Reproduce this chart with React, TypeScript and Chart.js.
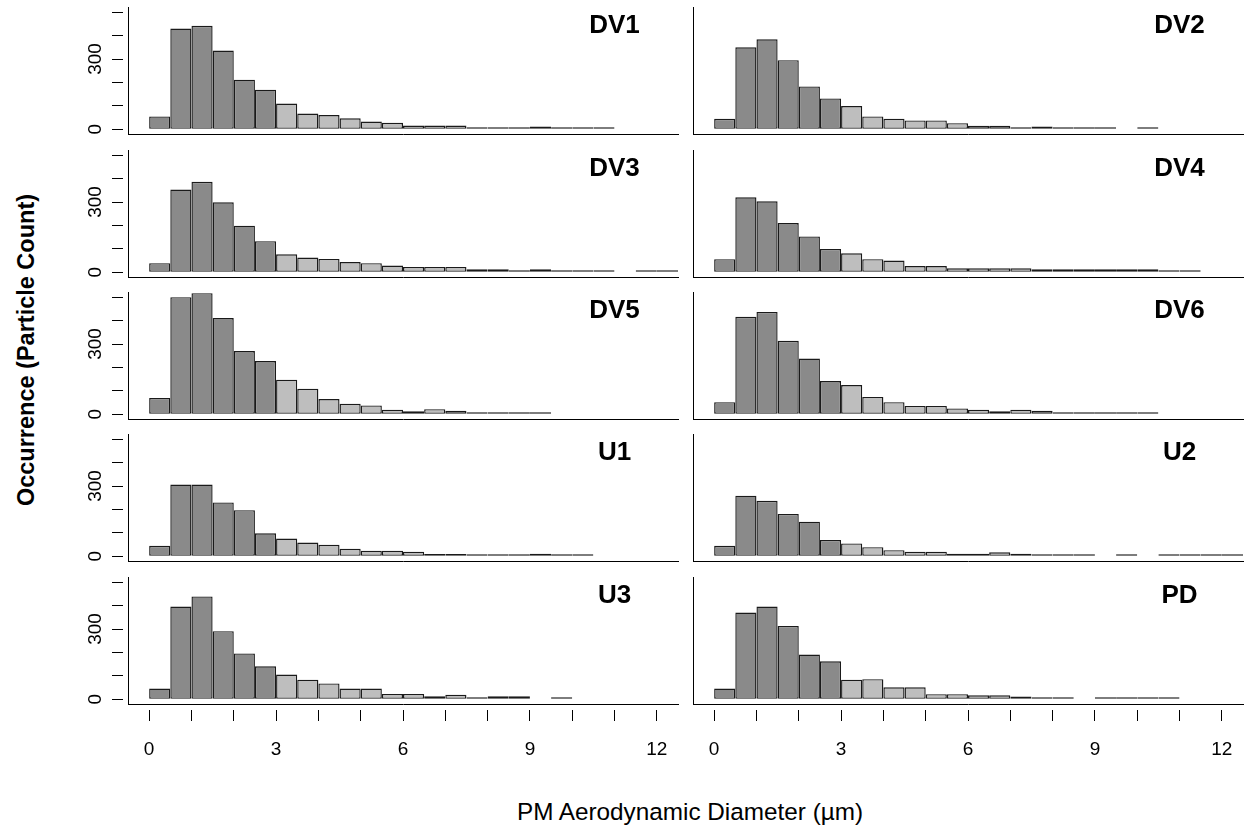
import React, { useEffect, useRef } from "react";
import { Chart, registerables } from "chart.js";

Chart.register(...registerables);

// ---- data ----
const binCenters = [
  0.25, 0.75, 1.25, 1.75, 2.25, 2.75, 3.25, 3.75, 4.25, 4.75, 5.25, 5.75, 6.25,
  6.75, 7.25, 7.75, 8.25, 8.75, 9.25, 9.75, 10.25, 10.75, 11.25, 11.75, 12.25,
];
const dv1Counts = [55, 430, 442, 336, 212, 169, 110, 67, 61, 47, 33, 28, 16, 16, 16, 6, 5, 5, 12, 5, 5, 5];
const dv2Counts = [45, 350, 384, 295, 183, 132, 99, 55, 45, 38, 38, 26, 15, 15, 6, 12, 5, 5, 5, 0, 7];
const dv3Counts = [39, 353, 386, 299, 199, 133, 77, 63, 57, 44, 39, 29, 23, 23, 23, 13, 13, 7, 13, 6, 6, 6, 0, 6, 6];
const dv4Counts = [56, 320, 303, 210, 153, 100, 81, 56, 50, 27, 27, 17, 17, 17, 17, 13, 13, 13, 13, 13, 13, 6, 6];
const dv5Counts = [70, 500, 517, 411, 270, 227, 148, 109, 65, 45, 38, 20, 13, 22, 15, 5, 5, 5, 5];
const dv6Counts = [52, 416, 437, 314, 238, 142, 125, 74, 52, 36, 36, 25, 19, 13, 20, 15, 9, 9, 4, 4, 4];
const u1Counts = [45, 306, 306, 230, 197, 98, 76, 59, 49, 32, 24, 24, 20, 10, 10, 6, 6, 6, 11, 6, 6];
const u2Counts = [45, 259, 237, 181, 148, 70, 55, 39, 26, 20, 20, 11, 11, 17, 11, 6, 6, 6, 0, 6, 0, 6, 6, 6, 6];
const u3Counts = [46, 396, 439, 291, 196, 141, 106, 84, 68, 46, 46, 23, 23, 13, 19, 7, 13, 13, 0, 7];
const pdCounts = [46, 370, 396, 313, 191, 162, 84, 86, 51, 51, 22, 22, 17, 17, 12, 6, 6, 0, 5, 5, 5, 5];

const panelNames = ["DV1", "DV2", "DV3", "DV4", "DV5", "DV6", "U1", "U2", "U3", "PD"];
const panelCounts = [dv1Counts, dv2Counts, dv3Counts, dv4Counts, dv5Counts, dv6Counts, u1Counts, u2Counts, u3Counts, pdCounts];

const coarseStart = 3; // bins at or above this diameter are drawn light
const xTickValues = [0, 1, 2, 3, 4, 5, 6, 7, 8, 9, 10, 11, 12];
const xTickLabelValues = [0, 3, 6, 9, 12];
const yTickValues = [0, 100, 200, 300, 400, 500];
const yTickLabelValues = [0, 300];
const labelPos = { x: 11, y: 442 };

// ---- style / layout ----
const FONT = '"Liberation Sans", Arial, Helvetica, sans-serif';
const DARK = "#8a8a8a";
const LIGHT = "#bebebe";
const EDGE = "#1a1a1a";
const COL_BOX_LEFT = [128, 693];
const BOX_W = 550;
const ROW_BOX_TOP = [7, 150, 292, 434, 577];
const BOX_H = 127;
const Y_AXIS_W = 60;
const X_AXIS_H = 62;
const PAD = 3;

const panelLabelPlugin = {
  id: "panelLabel",
  afterDatasetsDraw(chart: any, _args: any, opts: any) {
    const { ctx, scales } = chart;
    ctx.save();
    ctx.font = `bold 26px ${FONT}`;
    ctx.fillStyle = "#000";
    ctx.textAlign = "center";
    ctx.textBaseline = "middle";
    ctx.fillText(opts.text, scales.x.getPixelForValue(labelPos.x), scales.y.getPixelForValue(labelPos.y));
    ctx.restore();
  },
};

function geom(i: number) {
  const row = Math.floor(i / 2);
  const col = i % 2;
  const isLeft = col === 0;
  const isBottom = row === 4;
  const leftExtra = isLeft ? Y_AXIS_W : PAD;
  return {
    row,
    col,
    isLeft,
    isBottom,
    left: COL_BOX_LEFT[col] - leftExtra,
    top: ROW_BOX_TOP[row] - PAD,
    width: leftExtra + BOX_W + PAD,
    height: PAD + BOX_H + (isBottom ? X_AXIS_H : 0) + PAD,
  };
}

export default function App() {
  const refs = useRef<(HTMLCanvasElement | null)[]>([]);

  useEffect(() => {
    const charts = panelNames.map((name, i) => {
      const g = geom(i);
      const counts = panelCounts[i];
      const points = counts.map((c, k) => ({ x: binCenters[k], y: c > 0 ? c : null }));
      const colors = counts.map((_, k) => (binCenters[k] >= coarseStart ? LIGHT : DARK));
      const canvas = refs.current[i] as HTMLCanvasElement;
      return new Chart(canvas, {
        type: "bar",
        data: {
          datasets: [
            {
              data: points,
              backgroundColor: colors,
              borderColor: EDGE,
              borderWidth: 1.4,
              borderSkipped: false,
              barPercentage: 1,
              categoryPercentage: 1,
              inflateAmount: 0,
              minBarLength: 2,
            } as any,
          ],
        },
        options: {
          animation: false,
          responsive: false,
          devicePixelRatio: 1,
          events: [],
          layout: { padding: { top: PAD, right: PAD, bottom: PAD, left: g.isLeft ? 0 : PAD } },
          plugins: {
            legend: { display: false },
            tooltip: { enabled: false },
            panelLabel: { text: name },
          } as any,
          scales: {
            x: {
              type: "linear",
              min: -0.5,
              max: 12.5,
              offset: false,
              afterBuildTicks: (s: any) => {
                s.ticks = xTickValues.map((v) => ({ value: v }));
              },
              afterFit: (s: any) => {
                s.height = g.isBottom ? X_AXIS_H : 0;
                s.paddingLeft = 0;
                s.paddingRight = 0;
                s.paddingTop = 0;
                s.paddingBottom = 0;
              },
              grid: {
                offset: false,
                drawOnChartArea: false,
                drawTicks: g.isBottom,
                tickLength: 34,
                tickColor: "#000",
                tickWidth: 1,
                tickBorderDash: [0, 5, 11, 200],
              },
              border: { display: true, color: "#000", width: 1 },
              ticks: {
                display: g.isBottom,
                autoSkip: false,
                maxRotation: 0,
                minRotation: 0,
                padding: 0,
                color: "#000",
                font: { family: FONT, size: 19 },
                callback: (v: any) => (xTickLabelValues.includes(Number(v)) ? String(v) : ""),
              },
            },
            y: {
              type: "linear",
              min: -20,
              max: 522,
              afterBuildTicks: (s: any) => {
                s.ticks = yTickValues.map((v) => ({ value: v }));
              },
              afterFit: (s: any) => {
                s.width = g.isLeft ? Y_AXIS_W : 0;
                s.paddingLeft = 0;
                s.paddingRight = 0;
                s.paddingTop = 0;
                s.paddingBottom = 0;
              },
              grid: {
                drawOnChartArea: false,
                drawTicks: g.isLeft,
                tickLength: 16,
                tickColor: "#000",
                tickWidth: 1,
                tickBorderDash: [11, 200],
              },
              border: { display: true, color: "#000", width: 1 },
              ticks: {
                display: g.isLeft,
                autoSkip: false,
                minRotation: 90,
                maxRotation: 90,
                crossAlign: "center",
                padding: 0,
                color: "#000",
                font: { family: FONT, size: 19 },
                callback: (v: any) => (yTickLabelValues.includes(Number(v)) ? String(v) : ""),
              },
            },
          },
        } as any,
        plugins: [panelLabelPlugin as any],
      });
    });
    return () => charts.forEach((c) => c.destroy());
  }, []);

  return (
    <div
      style={{
        position: "fixed",
        left: 0,
        top: 0,
        width: 1244,
        height: 830,
        background: "#fff",
        overflow: "hidden",
        fontFamily: FONT,
      }}
    >
      {panelNames.map((name, i) => {
        const g = geom(i);
        return (
          <canvas
            key={name}
            ref={(el) => {
              refs.current[i] = el;
            }}
            width={g.width}
            height={g.height}
            style={{ position: "absolute", left: g.left, top: g.top, width: g.width, height: g.height }}
          />
        );
      })}
      <div
        style={{
          position: "absolute",
          left: 25.5 - 200,
          top: 350 - 15,
          width: 400,
          height: 30,
          lineHeight: "30px",
          textAlign: "center",
          fontWeight: "bold",
          fontSize: 23.5,
          color: "#000",
          transform: "rotate(-90deg)",
          whiteSpace: "nowrap",
        }}
      >
        Occurrence (Particle Count)
      </div>
      <div
        style={{
          position: "absolute",
          left: 690 - 300,
          top: 812 - 15,
          width: 600,
          height: 30,
          lineHeight: "30px",
          textAlign: "center",
          fontSize: 24.3,
          color: "#000",
          whiteSpace: "nowrap",
        }}
      >
        PM Aerodynamic Diameter (µm)
      </div>
    </div>
  );
}
